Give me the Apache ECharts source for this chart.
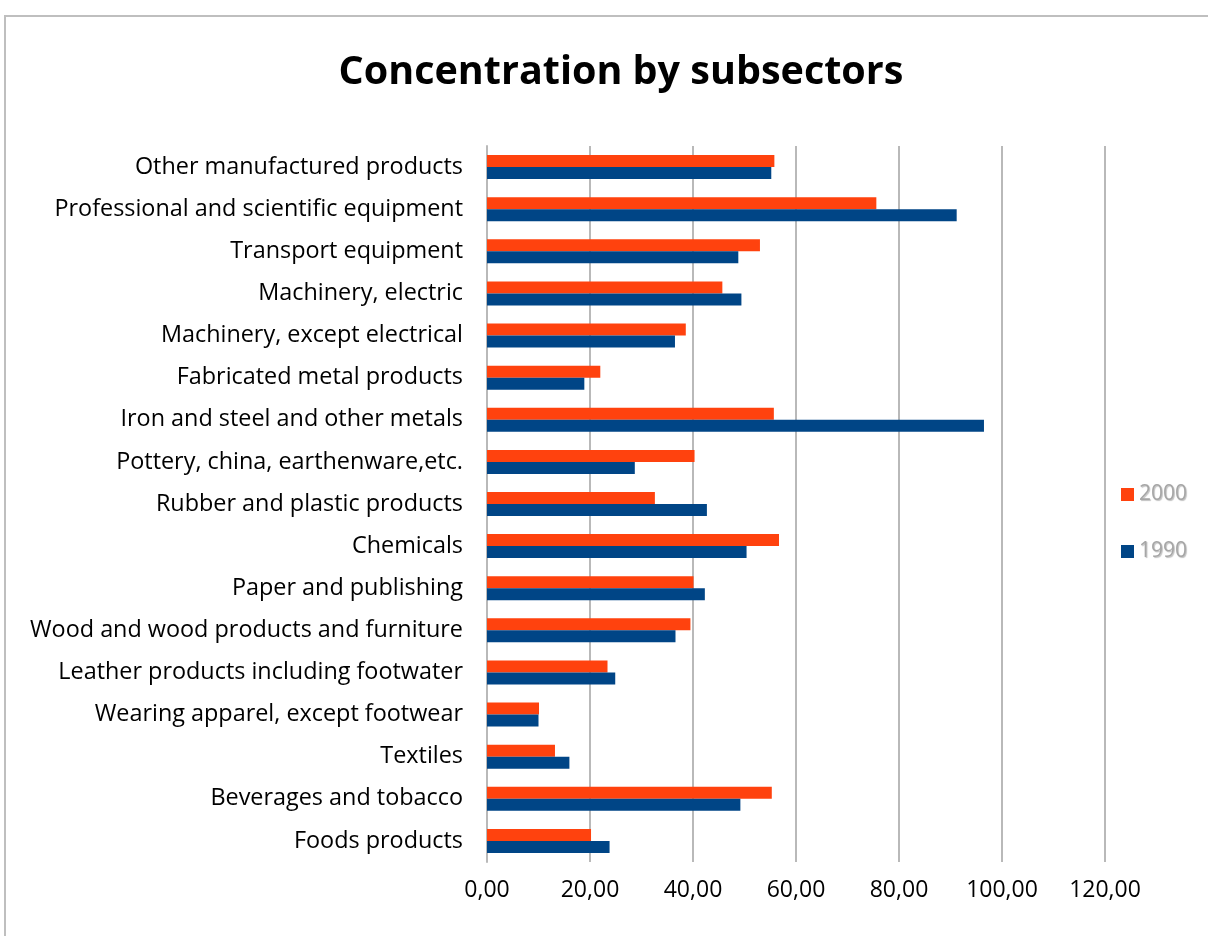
<!DOCTYPE html>
<html>
<head>
<meta charset="utf-8">
<script src="https://cdn.jsdelivr.net/npm/echarts@6/dist/echarts.min.js"></script>
<style>
html,body{margin:0;padding:0;background:#fff;}
#main{width:1208px;height:936px;}
</style>
</head>
<body>
<div id="main"></div>
<script>
var categories = [
  "Foods products",
  "Beverages and tobacco",
  "Textiles",
  "Wearing apparel, except footwear",
  "Leather products including footwater",
  "Wood and wood products and furniture",
  "Paper and publishing",
  "Chemicals",
  "Rubber and plastic products",
  "Pottery, china, earthenware,etc.",
  "Iron and steel and other metals",
  "Fabricated metal products",
  "Machinery, except electrical",
  "Machinery, electric",
  "Transport equipment",
  "Professional and scientific equipment",
  "Other manufactured products"
];
var values2000 = [20.2, 55.3, 13.2, 10.1, 23.4, 39.5, 40.1, 56.7, 32.6, 40.3, 55.7, 22.0, 38.6, 45.7, 53.0, 75.6, 55.8];
var values1990 = [23.8, 49.2, 16.0, 10.0, 24.9, 36.6, 42.3, 50.4, 42.7, 28.7, 96.5, 18.9, 36.5, 49.4, 48.8, 91.2, 55.2];
var xTicks = [0, 20, 40, 60, 80, 100, 120];

var FONT = "Open Sans";
var chart = echarts.init(document.getElementById('main'), null, {renderer: 'canvas'});
chart.setOption({
  animation: false,
  backgroundColor: '#fff',
  textStyle: {fontFamily: FONT},
  graphic: [{
    type: 'rect',
    shape: {x: 5, y: 16, width: 1240, height: 960},
    style: {fill: 'none', stroke: '#bfbfbf', lineWidth: 2},
    silent: true
  }],
  title: {
    text: 'Concentration by subsectors',
    left: 616,
    textAlign: 'center',
    top: 48,
    textStyle: {fontFamily: FONT, fontSize: 39.5, fontWeight: 'bold', color: '#000'}
  },
  legend: {
    orient: 'vertical',
    left: 1116,
    top: 479,
    itemWidth: 13,
    itemHeight: 13,
    itemGap: 36,
    data: ['2000', '1990'],
    textStyle: {fontFamily: FONT, fontSize: 21, color: '#a6a6a6', textShadowColor: 'rgba(0,0,0,0.25)', textShadowBlur: 1, textShadowOffsetX: 1, textShadowOffsetY: 1},
    icon: 'rect'
  },
  grid: {left: 487, right: 103, top: 146, bottom: 74, containLabel: false},
  xAxis: {
    type: 'value',
    min: 0,
    max: 120,
    interval: 20,
    axisLine: {show: false},
    axisTick: {show: false},
    splitLine: {show: true, lineStyle: {color: '#b9b9b9', width: 2}},
    axisLabel: {
      fontFamily: FONT, fontSize: 23, color: '#000', margin: 17,
      formatter: function (v) { return xTicks.indexOf(v) >= 0 ? v.toFixed(2).replace('.', ',') : ''; }
    }
  },
  yAxis: {
    type: 'category',
    data: categories,
    axisLine: {show: true, lineStyle: {color: '#b9b9b9', width: 2}},
    axisTick: {show: false},
    axisLabel: {fontFamily: FONT, fontSize: 23.4, color: '#000', margin: 24}
  },
  series: [
    {
      name: '2000', type: 'bar', data: values2000,
      barWidth: 12, barGap: '0%',
      itemStyle: {color: '#ff420e'}
    },
    {
      name: '1990', type: 'bar', data: values1990,
      barWidth: 12, barGap: '0%',
      itemStyle: {color: '#004586'}
    }
  ]
});
</script>
</body>
</html>
